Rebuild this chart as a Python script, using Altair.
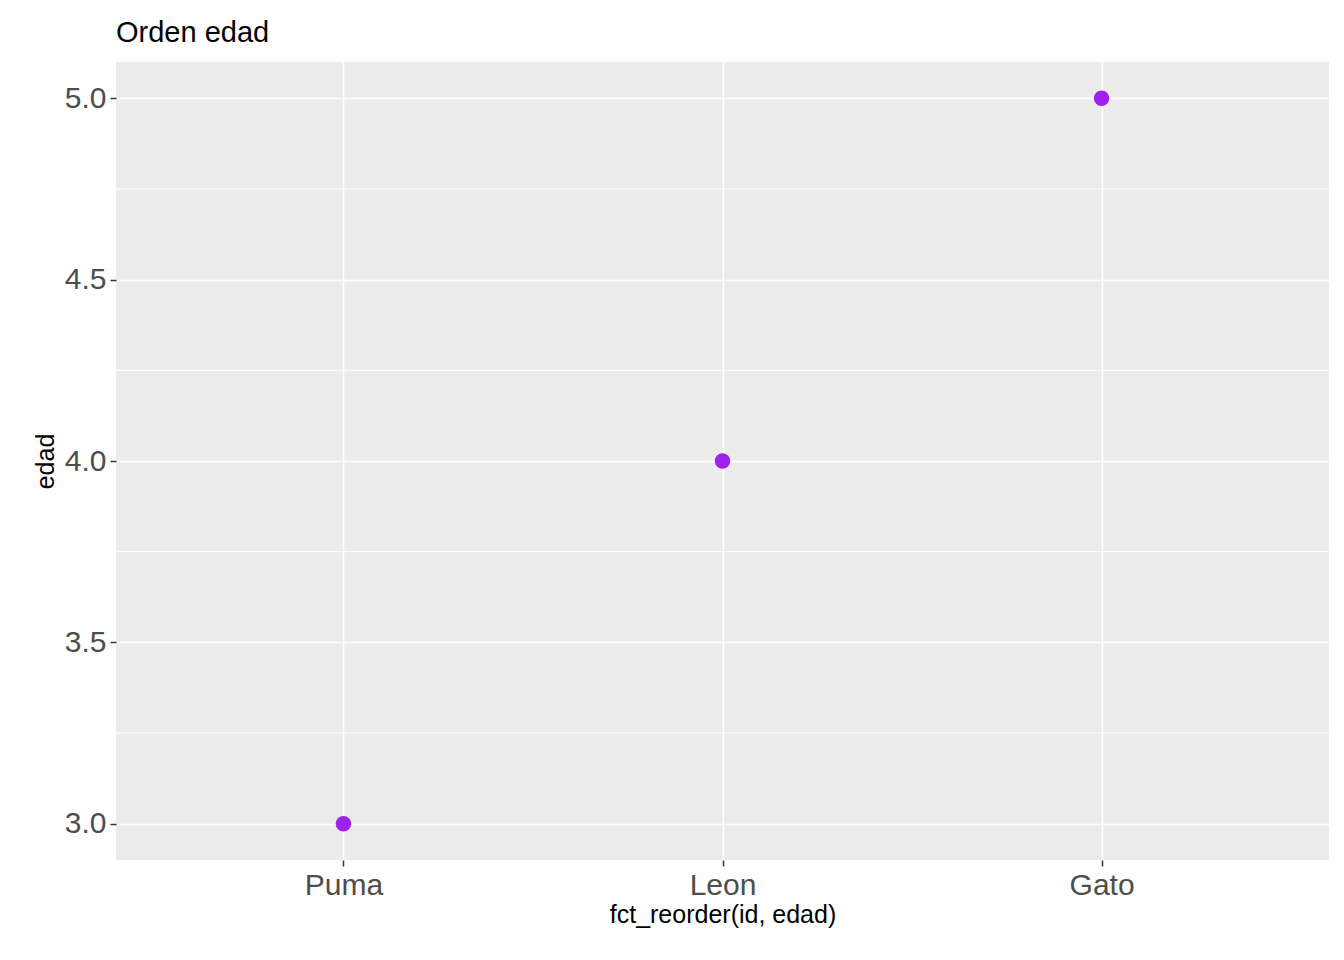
import altair as alt
import pandas as pd

ids = ["Puma", "Leon", "Gato"]
edad = [3, 4, 5]
major_ticks = [3.0, 3.5, 4.0, 4.5, 5.0]
minor_ticks = [3.25, 3.75, 4.25, 4.75]

df = pd.DataFrame({"id": ids, "edad": edad})
minor = pd.DataFrame({"v": minor_ticks})

yscale = alt.Scale(domain=[2.9, 5.1], nice=False, zero=False)
xscale = alt.Scale(type="point", padding=0.6, domain=ids)

FONT = "Liberation Sans"

grid_minor = alt.Chart(minor).mark_rule(color="white", strokeWidth=1).encode(
    y=alt.Y("v:Q", scale=yscale)
)

points = alt.Chart(df).mark_circle(color="#A020F0", size=240, opacity=1).encode(
    x=alt.X("id:N", scale=xscale, sort=ids, title="fct_reorder(id, edad)",
            axis=alt.Axis(labelAngle=0, grid=True, gridColor="white", gridWidth=1.5,
                          labelFontSize=30, labelFont=FONT, labelColor="#4D4D4D",
                          titleFontSize=25, titleFont=FONT, titlePadding=2)),
    y=alt.Y("edad:Q", scale=yscale, title="edad",
            axis=alt.Axis(values=major_ticks, format=".1f", grid=True,
                          gridColor="white", gridWidth=1.5,
                          labelFontSize=30, labelFont=FONT, labelColor="#4D4D4D",
                          titleFontSize=25, titleFont=FONT, titlePadding=6)),
)

chart = (grid_minor + points).properties(
    width=1213, height=798,
    title=alt.TitleParams("Orden edad", anchor="start", frame="group", fontSize=29,
                          fontWeight="normal", font=FONT,
                          color="black", offset=14),
    autosize=alt.AutoSizeParams(type="none"),
    padding={"left": 108, "top": 54, "right": 7, "bottom": 92},
).configure_view(fill="#EBEBEB", stroke=None).configure_axis(
    domain=False, tickColor="#333333", tickSize=6, tickWidth=1.5,
    titleFontWeight="normal", titleColor="black", labelPadding=4,
)

chart.save("out.html", embed_options={"renderer": "svg", "actions": False})
